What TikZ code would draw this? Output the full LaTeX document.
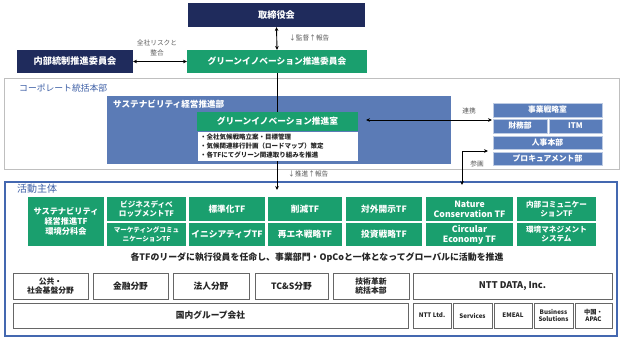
\documentclass[tikz,border=0pt]{standalone}
\usepackage{fontspec}
\setmainfont{Noto Sans CJK JP}
\usetikzlibrary{arrows.meta}
\definecolor{navy}{HTML}{1F2B5C}
\definecolor{grn}{HTML}{1A9F6E}
\definecolor{sblue}{HTML}{5B7BB6}
\definecolor{rblue}{HTML}{5A7DBA}
\definecolor{actb}{HTML}{4468B0}
\definecolor{lbl}{HTML}{3D5FA6}
\definecolor{gtxt}{HTML}{595959}
\newcommand\fs[1]{\fontsize{#1}{#1}\selectfont}
\newcommand\bx[7]{\node[#6, minimum width={(#4-#2)*1pt}, minimum height={(#5-#3)*1pt}] (#1) at ({(#2+#4)/2},{(#3+#5)/2}) {#7};}
\tikzset{
  base/.style={inner sep=0pt, outer sep=0pt, align=center},
  navybox/.style={base, fill=navy, text=white, font=\bfseries\fs{9.2}},
  greenbox/.style={base, fill=grn, text=white, font=\bfseries\fs{8.7}},
  tfbox/.style={base, fill=grn, text=white, font=\bfseries\fs{8.7}, execute at begin node=\setlength{\baselineskip}{10pt}},
  rbox/.style={base, fill=rblue, draw=white!60!rblue, line width=0.6pt, text=white, font=\bfseries\fs{7.8}},
  wbox/.style={base, fill=white, draw=black!60, line width=0.8pt, text=black!85, font=\bfseries\fs{8.7}, execute at begin node=\setlength{\baselineskip}{10pt}},
  sbox/.style={wbox, font=\bfseries\fs{6.2}, execute at begin node=\setlength{\baselineskip}{7.5pt}},
  lab/.style={inner sep=0pt, text=gtxt, font=\fs{6.7}, align=center},
  arr/.style={line width=0.9pt, {Stealth[length=4pt,width=3.6pt]}-{Stealth[length=4pt,width=3.6pt]}},
  arrd/.style={line width=0.9pt, -{Stealth[length=4pt,width=3.6pt]}},
}
\begin{document}
\begin{tikzpicture}[x=1pt,y=-1pt]
\useasboundingbox (0,0) rectangle (624,340);
% top
\bx{board}{188}{3}{365}{27}{navybox}{取締役会}
\bx{gic}{187}{50}{367}{73}{greenbox}{グリーンイノベーション推進委員会}
\bx{icc}{17}{50}{133}{73}{navybox}{内部統制推進委員会}
% corporate
\bx{corp}{4}{78}{619}{169}{base, draw=black!25, line width=0.8pt, fill=white}{}
\node[inner sep=0pt, anchor=west, text=lbl, font=\fs{8.8}] (corplab) at (19,88) {コーポレート統括本部};
\bx{sust}{107}{96}{451}{164}{base, fill=sblue}{}
\node[inner sep=0pt, anchor=west, text=white, font=\bfseries\fs{8.6}] (sustlab) at (113,104) {サステナビリティ経営推進部};
\bx{grm}{197}{112}{358}{131}{greenbox}{グリーンイノベーション推進室}
\bx{det}{197}{131}{358}{161}{base, fill=white, draw=sblue, line width=0.5pt}{}
\node[inner sep=0pt, anchor=north west, align=left, font=\bfseries\fs{6.5}, text=black!85, execute at begin node=\setlength{\baselineskip}{9pt}] (dettxt) at (200,133.5)
  {・全社気候戦略立案・目標管理\\・気候関連移行計画（ロードマップ）策定\\・各TFにてグリーン関連取り組みを推進};
% right boxes
\bx{jig}{493}{103}{602}{117}{rbox}{事業戦略室}
\bx{zai}{493}{119}{547}{133}{rbox}{財務部}
\bx{itm}{549}{119}{602}{133}{rbox}{ITM}
\bx{jin}{493}{136}{602}{149}{rbox}{人事本部}
\bx{pro}{493}{152}{602}{165}{rbox}{プロキュアメント部}
% activity
\bx{act}{5}{182}{617}{336}{base, draw=actb, line width=1.1pt, fill=white}{}
\node[inner sep=0pt, anchor=west, text=lbl, font=\fs{10}] (actlab) at (17,189) {活動主体};
\bx{tf1}{28}{197}{104}{246}{tfbox, font=\bfseries\fs{8.2}}{サステナビリティ\\経営推進TF\\環境分科会}
\bx{tf2a}{107}{197}{186}{221}{tfbox, font=\bfseries\fs{7.6}, execute at begin node=\setlength{\baselineskip}{9pt}}{ビジネスディベ\\ロップメントTF}
\bx{tf2b}{107}{223}{186}{246}{tfbox, font=\bfseries\fs{6.6}, execute at begin node=\setlength{\baselineskip}{8.5pt}}{マーケティングコミュ\\ニケーションTF}
\bx{tf3a}{189}{197}{265}{221}{tfbox}{標準化TF}
\bx{tf3b}{189}{223}{265}{246}{tfbox}{イニシアティブTF}
\bx{tf4a}{268}{197}{342}{221}{tfbox}{削減TF}
\bx{tf4b}{268}{223}{342}{246}{tfbox}{再エネ戦略TF}
\bx{tf5a}{346}{197}{422}{221}{tfbox}{対外開示TF}
\bx{tf5b}{346}{223}{422}{246}{tfbox}{投資戦略TF}
\bx{tf6a}{426}{197}{513}{221}{tfbox}{Nature\\Conservation TF}
\bx{tf6b}{426}{223}{513}{246}{tfbox}{Circular\\Economy TF}
\bx{tf7a}{517}{197}{596}{221}{tfbox, font=\bfseries\fs{7.6}, execute at begin node=\setlength{\baselineskip}{9pt}}{内部コミュニケー\\ションTF}
\bx{tf7b}{517}{223}{596}{246}{tfbox, font=\bfseries\fs{7.6}, execute at begin node=\setlength{\baselineskip}{9pt}}{環境マネジメント\\システム}
\node[inner sep=0pt, font=\bfseries\fs{8.9}, text=black!85] (stmt) at (317,258) {各TFのリーダに執行役員を任命し、事業部門・OpCoと一体となってグローバルに活動を推進};
% bottom
\bx{kok}{13}{273}{88}{299}{wbox, font=\bfseries\fs{7.8}, execute at begin node=\setlength{\baselineskip}{9.5pt}}{公共・\\社会基盤分野}
\bx{kin}{93}{273}{168}{299}{wbox}{金融分野}
\bx{hou}{173}{273}{249}{299}{wbox}{法人分野}
\bx{tcs}{255}{273}{328}{299}{wbox}{TC\&S分野}
\bx{gij}{333}{273}{409}{299}{wbox, font=\bfseries\fs{7.8}, execute at begin node=\setlength{\baselineskip}{9.5pt}}{技術革新\\統括本部}
\bx{ntd}{413}{273}{612}{299}{wbox, font=\bfseries\fs{9.2}}{NTT DATA, Inc.}
\bx{dom}{13}{303}{408}{328}{wbox}{国内グループ会社}
\bx{s1}{413}{303}{451}{328}{sbox}{NTT Ltd.}
\bx{s2}{453}{303}{492}{328}{sbox}{Services}
\bx{s3}{494}{303}{532}{328}{sbox}{EMEAL}
\bx{s4}{534}{303}{573}{328}{sbox}{Business\\Solutions}
\bx{s5}{575}{303}{612}{328}{sbox}{中国・\\APAC}
% connectors
\draw[arr] (board.south) -- (gic.north);
\node[lab, anchor=west] (l1) at (289,38) {↓監督↑報告};
\draw[arr] (icc.east) -- (gic.west);
\node[lab, execute at begin node=\setlength{\baselineskip}{10pt}] (l2) at (157,48) {全社リスクと\\整合};
\draw[line width=0.9pt] (gic.south) -- (gic.south |- grm.north);
\coordinate (actin) at (277,190);
\draw[arrd] (det.south -| actin) -- (actin);
\node[lab, anchor=west] (l3) at (288,174) {↓推進↑報告};
\coordinate (rt) at (492,120);
\draw[arr, shorten <=8pt] (grm.east |- rt) -- (rt);
\node[lab] (l4) at (469,111) {連携};
\coordinate (pa) at (462,185);
\coordinate (pb) at (488,151);
\draw[arr] (pa) -- (pa |- pb) -- (pb);
\node[lab] (l5) at (477,164) {参画};
\end{tikzpicture}
\end{document}
